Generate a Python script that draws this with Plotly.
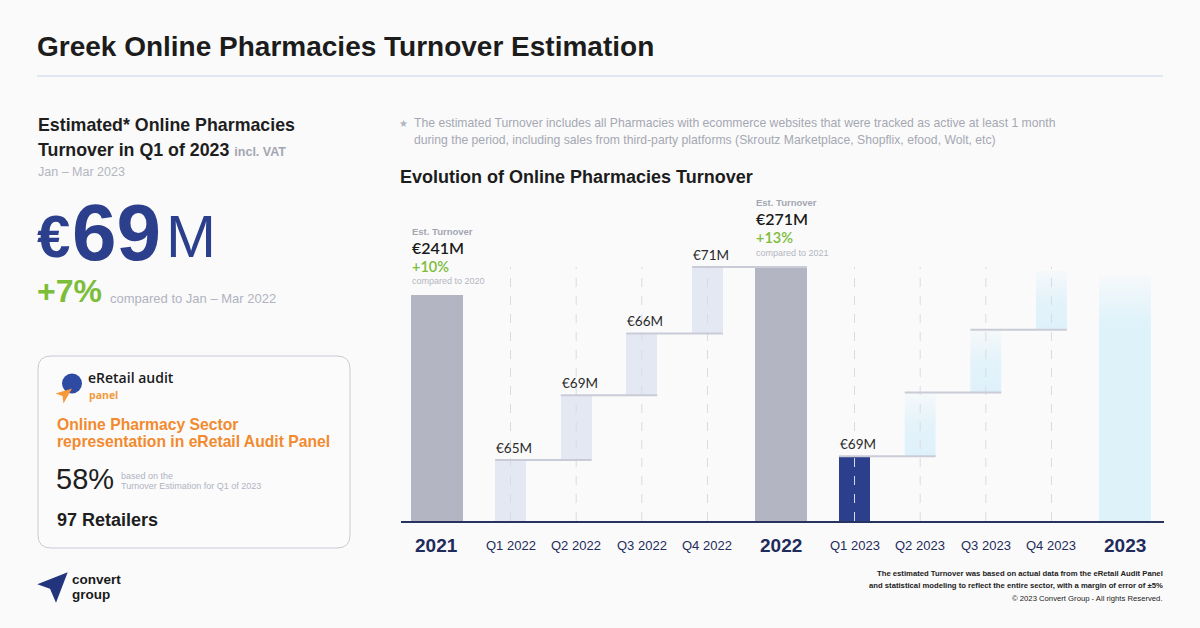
import plotly.graph_objects as go

# ---------------- data ----------------
categories = ["2021", "Q1 2022", "Q2 2022", "Q3 2022", "Q4 2022", "2022",
              "Q1 2023", "Q2 2023", "Q3 2023", "Q4 2023", "2023"]
values = [241, 65, 69, 66, 71, 271, 69, 68, 67, 63, 262]
kinds = ["year", "q", "q", "q", "q", "year", "current", "proj", "proj", "proj", "proj_year"]
value_labels = ["€241M", "€65M", "€69M", "€66M", "€71M", "€271M", "€69M", "", "", "", ""]
growth_labels = ["+10%", "", "", "", "", "+13%", "", "", "", "", ""]
compare_labels = ["compared to 2020", "", "", "", "", "compared to 2021", "", "", "", "", ""]

# ---------------- layout helpers ----------------
W, H = 1200, 628
X0, X1 = 401, 1164   # plot area in px
Y0, Y1 = 190, 521


def px(x):
    return (x - X0) / (X1 - X0)


def py(y):
    return (Y1 - y) / (Y1 - Y0)


SANS = "Liberation Sans, Arial, sans-serif"
ROUND = "Lato, Open Sans, sans-serif"
NAVY = "#2b3f8c"
GREEN = "#7cbd3a"
ORANGE = "#f28a2e"
DARK = "#1e1e1e"

# positions (year columns get a little extra spacing)
pos = []
p = 0.0
for i, k in enumerate(kinds):
    if i > 0:
        p += 1.12 if ("year" in kinds[i] or "year" in kinds[i - 1]) else 1.0
    pos.append(p)

bases = []
run = 0
for v, k in zip(values, kinds):
    if "year" in k:
        bases.append(0)
        run = 0
    else:
        bases.append(run)
        run += v

YW, QW = 0.79, 0.47
widths = [YW if "year" in k else QW for k in kinds]
tops = [b + v for b, v in zip(bases, values)]

fig = go.Figure()

# year bars
idx = [i for i, k in enumerate(kinds) if k == "year"]
fig.add_trace(go.Bar(x=[pos[i] for i in idx], y=[values[i] for i in idx],
                     base=[bases[i] for i in idx], width=YW,
                     marker=dict(color="#b3b5c2", line=dict(width=0)),
                     hoverinfo="skip", showlegend=False))
# 2022 quarters
idx = [i for i, k in enumerate(kinds) if k == "q"]
fig.add_trace(go.Bar(x=[pos[i] for i in idx], y=[values[i] for i in idx],
                     base=[bases[i] for i in idx], width=QW,
                     marker=dict(color="rgba(212,220,238,0.6)", line=dict(width=0)),
                     hoverinfo="skip", showlegend=False))

# projected (gradient) bars
for i, k in enumerate(kinds):
    if k not in ("proj", "proj_year"):
        continue
    x0, x1 = pos[i] - widths[i] / 2, pos[i] + widths[i] / 2
    b, t = bases[i], tops[i]
    if k == "proj_year":
        cs = [[0, "rgba(222,242,250,1)"], [0.8, "rgba(222,242,250,1)"], [1, "rgba(222,242,250,0.15)"]]
    else:
        cs = [[0, "rgba(222,241,250,1)"], [0.5, "rgba(222,241,250,0.8)"], [1, "rgba(222,241,250,0.15)"]]
    fig.add_trace(go.Scatter(x=[x0, x1, x1, x0, x0], y=[b, b, t, t, b], mode="lines",
                             line=dict(width=0), fill="toself",
                             fillgradient=dict(type="vertical", start=b, stop=t, colorscale=cs),
                             hoverinfo="skip", showlegend=False))

# dashed guides at quarter columns
gx, gy = [], []
ymax = max(values)
for i, k in enumerate(kinds):
    if "year" not in k:
        gx += [pos[i], pos[i], None]
        gy += [0, ymax, None]
fig.add_trace(go.Scatter(x=gx, y=gy, mode="lines",
                         line=dict(color="#d9dbe3", width=1, dash="dash"),
                         hoverinfo="skip", showlegend=False))

# connectors
cx, cy = [], []
for i, k in enumerate(kinds):
    if "year" in k or i + 1 >= len(kinds):
        continue
    if k == "proj" and kinds[i + 1] == "proj_year":
        continue
    cx += [pos[i] - widths[i] / 2, pos[i + 1] + widths[i + 1] / 2, None]
    cy += [tops[i], tops[i], None]
fig.add_trace(go.Scatter(x=cx, y=cy, mode="lines",
                         line=dict(color="#c9ccd6", width=2),
                         hoverinfo="skip", showlegend=False))

# current quarter
idx = [i for i, k in enumerate(kinds) if k == "current"]
fig.add_trace(go.Bar(x=[pos[i] for i in idx], y=[values[i] for i in idx],
                     base=[bases[i] for i in idx], width=QW,
                     marker=dict(color=NAVY, line=dict(width=0)),
                     hoverinfo="skip", showlegend=False))

ann = []


def A(text, x, y, size, color=DARK, family=SANS, xanchor="left", bold=False, weight=None, **kw):
    f = dict(size=size, color=color, family=family)
    if weight:
        f["weight"] = weight
    d = dict(text=(f"<b>{text}</b>" if bold else text), x=px(x), y=py(y), xref="paper", yref="paper",
             xanchor=xanchor, yanchor="middle", showarrow=False, font=f,
             align=xanchor if xanchor != "center" else "center", borderpad=0)
    d.update(kw)
    ann.append(d)


# axis category labels
for i, c in enumerate(categories):
    if "year" in kinds[i]:
        t, s = f"<b>{c}</b>", 19
    else:
        t, s = c, 13
    ann.append(dict(text=t, x=pos[i], y=0, xref="x", yref="y", xanchor="center", yanchor="middle",
                    yshift=-24, showarrow=False, font=dict(size=s, color="#1e2b5b", family=SANS)))

# value labels
for i, lab in enumerate(value_labels):
    if not lab:
        continue
    xl = pos[i] - widths[i] / 2
    if "year" in kinds[i]:
        ann.append(dict(text="<b>Est. Turnover</b>", x=xl, y=tops[i], xref="x", yref="y", xanchor="left",
                        yanchor="middle", yshift=64, xshift=-1, showarrow=False,
                        font=dict(size=9.5, color="#a3a6b2", family=SANS)))
        ann.append(dict(text=lab, x=xl, y=tops[i], xref="x", yref="y", xanchor="left",
                        yanchor="middle", yshift=48, xshift=-1, showarrow=False,
                        font=dict(size=16, color="#1a1a1a", family=ROUND, weight=600)))
        ann.append(dict(text=growth_labels[i], x=xl, y=tops[i], xref="x", yref="y", xanchor="left",
                        yanchor="middle", yshift=29, xshift=-1, showarrow=False,
                        font=dict(size=14.5, color=GREEN, family=ROUND, weight=600)))
        ann.append(dict(text=compare_labels[i], x=xl, y=tops[i], xref="x", yref="y", xanchor="left",
                        yanchor="middle", yshift=14, xshift=-1, showarrow=False,
                        font=dict(size=9, color="#b3b6c1", family=SANS)))
    else:
        ann.append(dict(text=lab, x=xl, y=tops[i], xref="x", yref="y", xanchor="left",
                        yanchor="middle", yshift=12, xshift=-1, showarrow=False,
                        font=dict(size=13.5, color="#2a2a2a", family=ROUND)))

# page texts
A("Greek Online Pharmacies Turnover Estimation", 36, 47, 28, bold=True, color="#1c1c1c")
A("Estimated* Online Pharmacies", 37, 125, 17.8, bold=True)
A("<b>Turnover in Q1 of 2023</b> <b><span style='font-size:12.5px;color:#a3a6b2'>incl. VAT</span></b>",
  37, 150, 17.8)
A("Jan – Mar 2023", 37, 172, 12.5, color="#b2b5c0")
A("<b>€</b>", 36, 236, 60, color=NAVY)
A("<b>69</b>", 71, 232, 80, color=NAVY)
A("M", 165, 236, 60, color=NAVY)
A("<b>+7%</b>", 36, 291, 32, color=GREEN)
A("compared to Jan – Mar 2022", 109, 298, 13, color="#b0b3bf")

A("eRetail audit", 87, 377.5, 14, color="#1a1a1a", family="Open Sans, sans-serif", weight=600)
A("panel", 88, 394.5, 10.5, color="#f39a3c", family="Open Sans, sans-serif", weight=700)
A("Online Pharmacy Sector", 56, 424, 15.7, bold=True, color=ORANGE)
A("representation in eRetail Audit Panel", 56, 441, 15.7, bold=True, color=ORANGE)
A("58%", 55, 479, 29, color="#1f1f1f")
A("based on the", 120, 476, 9, color="#b0b3bf")
A("Turnover Estimation for Q1 of 2023", 120, 486, 9, color="#b0b3bf")
A("97 Retailers", 56, 520, 18, bold=True)

A("★", 398, 123, 10, color="#b0b3bf")
A("The estimated Turnover includes all Pharmacies with ecommerce websites that were tracked as active at least 1 month",
  413, 123, 12.2, color="#a5a8b3")
A("during the period, including sales from third-party platforms (Skroutz Marketplace, Shopflix, efood, Wolt, etc)",
  413, 140, 12.2, color="#a5a8b3")
A("Evolution of Online Pharmacies Turnover", 399, 177, 18, bold=True, color="#1c1c1c")

A("convert", 71, 579, 13.5, bold=True, color="#1a1a1a")
A("group", 71, 594, 13.5, bold=True, color="#1a1a1a")
A("<b>The estimated Turnover was based on actual data from the eRetail Audit Panel</b>", 1164, 573, 7.7,
  xanchor="right", color="#222")
A("<b>and statistical modeling to reflect the entire sector, with a margin of error of ±5%</b>", 1164, 585, 7.7,
  xanchor="right", color="#222")
A("© 2023 Convert Group - All rights Reserved.", 1164, 598, 7.7, xanchor="right", color="#222")

# ---------------- shapes ----------------
shapes = []
shapes.append(dict(type="line", xref="paper", yref="paper", x0=px(37), x1=px(1163), y0=py(76), y1=py(76),
                   line=dict(color="#e2e5f2", width=2)))


def rrect(x0, y0, x1, y1, r):
    pts = [f"M{px(x0 + r)},{py(y0)}", f"L{px(x1 - r)},{py(y0)}", f"Q{px(x1)},{py(y0)} {px(x1)},{py(y0 + r)}",
           f"L{px(x1)},{py(y1 - r)}", f"Q{px(x1)},{py(y1)} {px(x1 - r)},{py(y1)}",
           f"L{px(x0 + r)},{py(y1)}", f"Q{px(x0)},{py(y1)} {px(x0)},{py(y1 - r)}",
           f"L{px(x0)},{py(y0 + r)}", f"Q{px(x0)},{py(y0)} {px(x0 + r)},{py(y0)}", "Z"]
    return " ".join(pts)


shapes.append(dict(type="path", xref="paper", yref="paper", path=rrect(38, 356, 350, 548, 13),
                   line=dict(color="#c9cbd3", width=1), fillcolor="#fbfbfc", layer="below"))


def poly(points):
    return "M" + " L".join(f"{px(a)},{py(b)}" for a, b in points) + " Z"


# eRetail logo
shapes.append(dict(type="circle", xref="paper", yref="paper", x0=px(62), x1=px(82), y0=py(393.5), y1=py(373.5),
                   fillcolor="#2f4aa3", line=dict(width=0)))
shapes.append(dict(type="path", xref="paper", yref="paper",
                   path=poly([(72, 388.5), (55.5, 393.5), (62.5, 396), (63.5, 403.5)]),
                   fillcolor="#f5993a", line=dict(width=0)))
# convert group logo
shapes.append(dict(type="path", xref="paper", yref="paper",
                   path=poly([(67.7, 572.3), (37.3, 584.3), (50, 588.7), (56, 602.7)]),
                   fillcolor="#22347c", line=dict(width=0)))

fig.update_layout(
    width=W, height=H, autosize=False,
    margin=dict(l=X0, r=W - X1, t=Y0, b=H - Y1, pad=0),
    paper_bgcolor="#fafafa", plot_bgcolor="rgba(0,0,0,0)",
    barmode="overlay", bargap=0,
    xaxis=dict(range=[-0.548, 11.074], showticklabels=False, showgrid=False, zeroline=False,
               showline=True, linecolor="#27345f", linewidth=2, fixedrange=True, ticks=""),
    yaxis=dict(range=[0, 353], visible=False, fixedrange=True),
    annotations=ann, shapes=shapes, showlegend=False,
)

fig.write_html("out.html", config=dict(displayModeBar=False))
